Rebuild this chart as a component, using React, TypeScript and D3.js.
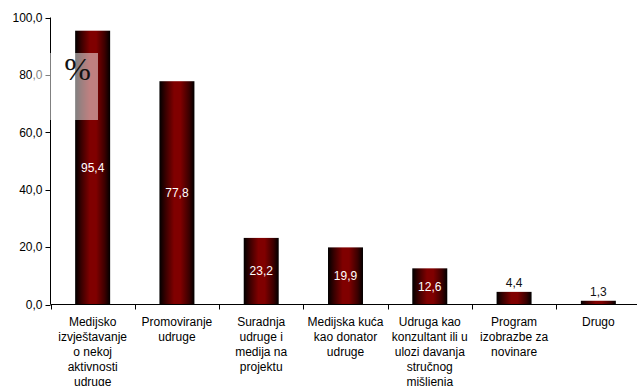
import React from "react";
import * as d3 from "d3";

const categories = [
  "Medijsko izvještavanje o nekoj aktivnosti udruge",
  "Promoviranje udruge",
  "Suradnja udruge i medija na projektu",
  "Medijska kuća kao donator udruge",
  "Udruga kao konzultant ili u ulozi davanja stručnog mišljenja",
  "Program izobrazbe za novinare",
  "Drugo",
];
const categoryLines = [
  ["Medijsko", "izvještavanje", "o nekoj", "aktivnosti", "udruge"],
  ["Promoviranje", "udruge"],
  ["Suradnja", "udruge i", "medija na", "projektu"],
  ["Medijska kuća", "kao donator", "udruge"],
  ["Udruga kao", "konzultant ili u", "ulozi davanja", "stručnog", "mišljenja"],
  ["Program", "izobrazbe za", "novinare"],
  ["Drugo"],
];
const values = [95.4, 77.8, 23.2, 19.9, 12.6, 4.4, 1.3];
const yTicks = [0, 20, 40, 60, 80, 100];
const unitLabel = "%";

const W = 637;
const H = 386;
const left = 50.5;
const right = 640.5;
const top = 17.5;
const bottom = 304.5;

const fmt = (v: number) => v.toFixed(1).replace(".", ",");

export default function App() {
  const x = d3.scaleBand<string>().domain(categories).range([left, right]).padding(0);
  const y = d3.scaleLinear().domain([0, 100]).range([bottom, top]);
  const bw = x.bandwidth() * 0.415;
  const font = "Arial, 'Liberation Sans', sans-serif";
  const boundaries = categories.map((c) => x(c) as number).concat([right]);

  return (
    <svg
      width={W}
      height={H}
      style={{ position: "absolute", left: 0, top: 0, background: "#fff" }}
      fontFamily={font}
    >
      <defs>
        <linearGradient id="barGrad" x1="0" x2="1" y1="0" y2="0">
          <stop offset="0%" stopColor="#000000" />
          <stop offset="18%" stopColor="#3a0000" />
          <stop offset="42%" stopColor="#800000" />
          <stop offset="60%" stopColor="#800000" />
          <stop offset="85%" stopColor="#3a0000" />
          <stop offset="100%" stopColor="#000000" />
        </linearGradient>
      </defs>

      {/* bars */}
      {categories.map((c, i) => {
        const cx = (x(c) as number) + x.bandwidth() / 2;
        const yt = y(values[i]);
        return (
          <rect
            key={c}
            x={cx - bw / 2}
            y={yt}
            width={bw}
            height={bottom - yt}
            fill="url(#barGrad)"
          />
        );
      })}

      {/* value labels */}
      {categories.map((c, i) => {
        const cx = (x(c) as number) + x.bandwidth() / 2;
        const yt = y(values[i]);
        const inside = values[i] > 10;
        return inside ? (
          <text
            key={c}
            x={cx}
            y={(yt + bottom) / 2}
            dy="0.35em"
            textAnchor="middle"
            fontSize={12}
            fill="#fff"
          >
            {fmt(values[i])}
          </text>
        ) : (
          <text key={c} x={cx} y={yt - 4.5} textAnchor="middle" fontSize={12} fill="#111">
            {fmt(values[i])}
          </text>
        );
      })}

      {/* y axis */}
      <line x1={left} x2={left} y1={top} y2={bottom} stroke="#000" />
      {yTicks.map((t) => (
        <g key={t}>
          <line x1={left - 5} x2={left} y1={Math.round(y(t)) + 0.5} y2={Math.round(y(t)) + 0.5} stroke="#000" />
          <text x={left - 8} y={y(t)} dy="0.35em" textAnchor="end" fontSize={12} fill="#000">
            {fmt(t)}
          </text>
        </g>
      ))}

      {/* x axis */}
      <line x1={left} x2={right} y1={bottom} y2={bottom} stroke="#000" />
      {boundaries.map((b, i) => (
        <line key={i} x1={Math.round(b) + 0.5} x2={Math.round(b) + 0.5} y1={bottom} y2={bottom + 5} stroke="#000" />
      ))}
      {categories.map((c, i) => {
        const cx = (x(c) as number) + x.bandwidth() / 2;
        return (
          <text key={c} x={cx} y={326} textAnchor="middle" fontSize={12} fill="#000">
            {categoryLines[i].map((ln, j) => (
              <tspan key={j} x={cx} dy={j === 0 ? 0 : 15}>
                {ln}
              </tspan>
            ))}
          </text>
        );
      })}

      {/* unit label box */}
      <rect x={32} y={53} width={66} height={67} fill="#fff" fillOpacity={0.5} />
      <text
        x={77.5}
        y={80}
        textAnchor="middle"
        fontSize={32}
        style={{ fontFamily: "'Liberation Serif', 'DejaVu Serif', serif" }}
        fill="#111"
      >
        {unitLabel}
      </text>
    </svg>
  );
}
